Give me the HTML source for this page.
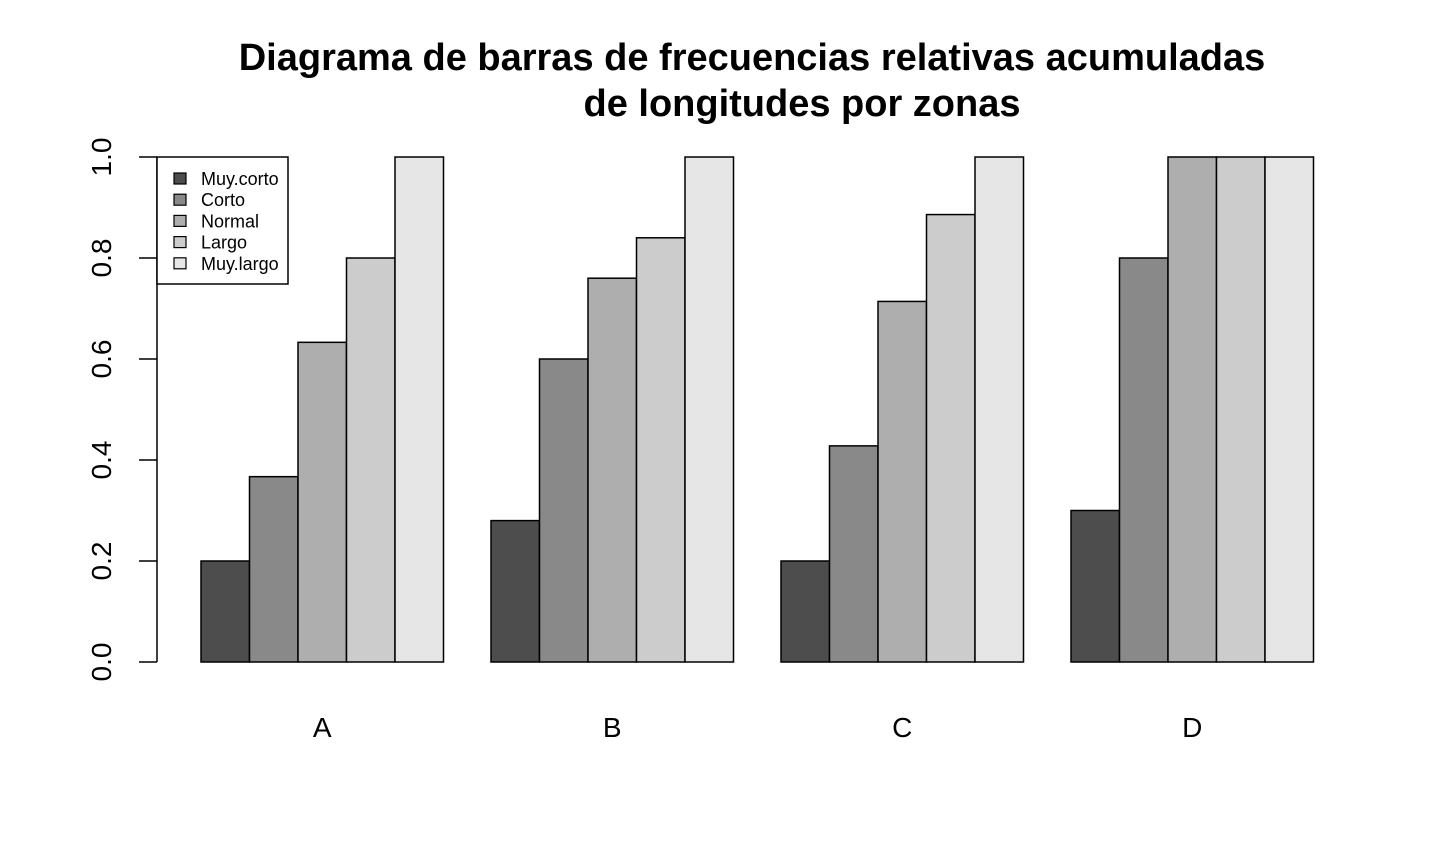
<!DOCTYPE html>
<html><head><meta charset="utf-8"><style>body{margin:0;background:#fff}svg{display:block}text{font-family:"Liberation Sans",Arial,sans-serif}</style></head>
<body>
<svg id="c" width="1440" height="864">
<text x="752" y="70" text-anchor="middle" font-size="38" font-weight="bold">Diagrama de barras de frecuencias relativas acumuladas</text>
<text x="802" y="116" text-anchor="middle" font-size="38" font-weight="bold">de longitudes por zonas</text>
<g id="bars"></g><g id="axis"></g><g id="legend"></g>
</svg>
<script>
const categories=["A","B","C","D"];
const series=["Muy.corto","Corto","Normal","Largo","Muy.largo"];
const colors=["#4d4d4d","#898989","#aeaeae","#cccccc","#e6e6e6"];
const values=[
 [0.2,0.367,0.633,0.8,1.0],
 [0.28,0.6,0.76,0.84,1.0],
 [0.2,0.428,0.714,0.886,1.0],
 [0.3,0.8,1.0,1.0,1.0]];
const ticks=[0,0.2,0.4,0.6,0.8,1.0];
const tickLabels=["0.0","0.2","0.4","0.6","0.8","1.0"];
const NS="http://www.w3.org/2000/svg";
const y=v=>662-v*505;
const bw=48.5;
const x=(g,i)=>201+g*290+i*bw;
function mk(t,a,p){const e=document.createElementNS(NS,t);for(const k in a)e.setAttribute(k,a[k]);p.appendChild(e);return e;}
const B=document.getElementById('bars');
values.forEach((row,g)=>{row.forEach((v,i)=>{
 const r=mk('rect',{x:x(g,i),y:y(v),width:bw,height:y(0)-y(v),fill:colors[i],stroke:'#000','stroke-width':1.5},B);
 
 
});
 const t=mk('text',{x:x(g,2.5),y:737,'text-anchor':'middle','font-size':28},B);t.textContent=categories[g];
 
 
});
const A=document.getElementById('axis');
const al=mk('line',{x1:157,x2:157,y1:y(0),y2:y(1),stroke:'#000','stroke-width':1.5},A);


ticks.forEach((v,i)=>{
 mk('line',{x1:139,x2:157,y1:y(v),y2:y(v),stroke:'#000','stroke-width':1.5},A);
 const t=mk('text',{x:0,y:0,'text-anchor':'middle','font-size':28,transform:`translate(111,${y(v)}) rotate(-90)`},A);t.textContent=tickLabels[i];
 
 
});
const L=document.getElementById('legend');


mk('rect',{x:157,y:157,width:131,height:127,fill:'#fff',stroke:'#000','stroke-width':1.5},L);
series.forEach((s,i)=>{
 const cy=179+i*21.2;
 mk('rect',{x:174,y:cy-6,width:12,height:11,fill:colors[i],stroke:'#000','stroke-width':1.2},L);
 const t=mk('text',{x:201,y:cy+6,'font-size':18},L);t.textContent=s;
 
 
});
</script>
</body></html>
